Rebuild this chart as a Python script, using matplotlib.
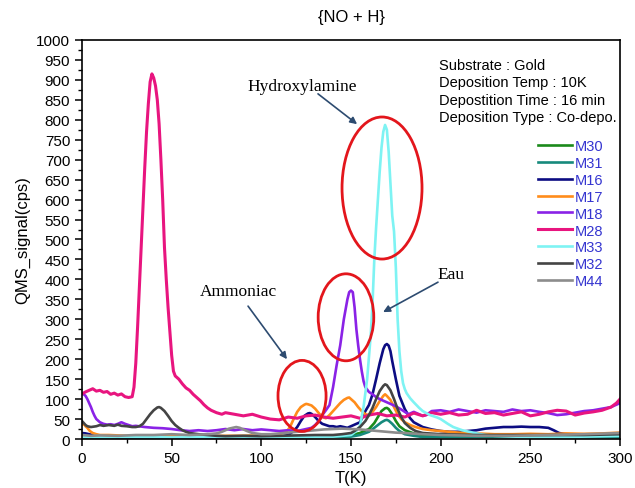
import numpy as np
import matplotlib.pyplot as plt
from matplotlib.patches import Ellipse
from matplotlib.ticker import MultipleLocator

plt.rcParams['font.family'] = ['Liberation Sans', 'DejaVu Sans']

# ---- data (T in K, signal in cps) ----
t_m30 = [0, 50, 100, 140, 150, 155, 160, 163, 165, 167, 169, 170, 171, 173, 175, 177, 180, 185, 190, 200, 250, 300]
m30 = [5, 4, 5, 6, 10, 15, 25, 40, 55, 70, 77, 78, 75, 62, 45, 32, 22, 14, 10, 8, 6, 6]

t_m31 = [0, 100, 150, 155, 160, 163, 165, 167, 169, 170, 171, 173, 175, 177, 180, 185, 190, 300]
m31 = [3, 3, 6, 10, 18, 28, 35, 42, 47, 48, 46, 38, 28, 20, 12, 8, 5, 4]

t_m16 = [0, 2, 4, 6, 8, 10, 15, 20, 30, 40, 50, 60, 70, 80, 90, 100, 110, 115, 118, 120, 122, 124,
         126, 127, 128, 130, 132, 134, 136, 138, 140, 142, 144, 146, 148, 150, 152, 155, 158, 160,
         162, 164, 166, 168, 169, 170, 171, 172, 173, 175, 177, 180, 183, 185, 190, 195, 200, 205,
         210, 215, 220, 225, 230, 235, 240, 245, 250, 255, 260, 263, 266, 270, 280, 290, 300]
m16 = [15, 14, 12, 10, 9, 8, 6, 5, 4, 4, 3, 4, 3, 4, 3, 4, 5, 10, 20, 30, 45, 58,
       64, 65, 63, 55, 45, 38, 35, 32, 32, 30, 32, 30, 28, 32, 36, 42, 70, 85,
       112, 150, 190, 225, 235, 238, 234, 220, 195, 150, 108, 75, 52, 42, 30, 24, 20, 18,
       18, 20, 22, 26, 28, 30, 30, 31, 30, 30, 28, 22, 15, 12, 10, 10, 12]

t_m17 = [0, 1, 2, 3, 4, 5, 6, 8, 10, 15, 20, 25, 30, 40, 50, 60, 70, 80, 90, 100, 105, 110, 114,
         116, 118, 120, 122, 124, 125, 126, 128, 130, 132, 134, 136, 138, 140, 142, 144, 146, 148,
         149, 150, 152, 154, 156, 158, 160, 162, 164, 166, 168, 169, 170, 172, 174, 176, 178, 180,
         183, 186, 190, 195, 200, 205, 210, 220, 230, 240, 250, 260, 270, 280, 290, 300]
m17 = [35, 38, 32, 28, 22, 18, 15, 12, 10, 10, 9, 8, 8, 8, 7, 8, 7, 8, 8, 9, 10, 12, 18,
       30, 50, 68, 80, 86, 88, 87, 84, 76, 65, 55, 52, 60, 70, 80, 90, 98, 103,
       104, 100, 92, 80, 70, 62, 60, 68, 80, 95, 108, 112, 108, 98, 80, 62, 50, 42,
       35, 30, 25, 22, 20, 18, 16, 14, 12, 12, 13, 12, 14, 13, 14, 16]

t_m18 = [0, 1, 2, 3, 4, 5, 6, 7, 8, 10, 12, 14, 16, 18, 20, 22, 24, 26, 28, 30, 35, 40, 45, 50,
         55, 60, 65, 70, 75, 80, 85, 90, 95, 100, 105, 110, 115, 120, 125, 128, 130, 132, 134,
         136, 138, 140, 142, 144, 146, 148, 149, 150, 151, 152, 153, 154, 155, 156, 157, 158,
         160, 162, 164, 166, 168, 170, 172, 175, 178, 180, 182, 185, 188, 190, 192, 195, 200,
         205, 210, 215, 220, 225, 230, 235, 240, 245, 250, 255, 260, 265, 270, 275, 280, 285,
         290, 295, 300]
m18 = [115, 112, 108, 100, 90, 80, 68, 58, 50, 42, 38, 36, 37, 35, 38, 42, 38, 35, 32, 33, 30, 28, 27, 25,
       22, 20, 22, 20, 22, 25, 22, 25, 22, 24, 22, 20, 22, 20, 25, 28, 35, 45, 60,
       72, 85, 130, 185, 235, 300, 350, 368, 372, 368, 330, 275, 235, 200, 170, 145, 130,
       118, 112, 105, 100, 96, 92, 88, 82, 74, 68, 62, 68, 62, 58, 60, 70, 72,
       68, 74, 70, 66, 72, 70, 68, 74, 70, 72, 68, 65, 60, 62, 66, 70, 72,
       76, 80, 90]

t_m28 = [0, 2, 4, 6, 8, 10, 12, 14, 16, 18, 20, 22, 24, 26, 28, 29, 30, 31, 32, 33, 34, 35, 36, 37,
         38, 39, 40, 41, 42, 43, 44, 45, 46, 47, 48, 49, 50, 51, 52, 54, 56, 58, 60, 62, 64, 66,
         68, 70, 72, 75, 78, 80, 85, 90, 95, 100, 105, 110, 115, 120, 125, 130, 135, 140, 145,
         150, 155, 160, 165, 170, 175, 180, 185, 190, 195, 200, 205, 210, 215, 220, 225, 230,
         235, 240, 245, 250, 255, 260, 265, 270, 275, 280, 285, 290, 295, 298, 300]
m28 = [113, 118, 122, 126, 120, 122, 117, 119, 112, 115, 110, 113, 106, 104, 106, 130, 190, 280, 380, 480, 580, 680, 770, 840,
       895, 915, 905, 885, 850, 790, 700, 600, 480, 400, 330, 270, 210, 170, 158, 150, 138, 128, 122, 112, 104, 96,
       86, 78, 72, 66, 62, 66, 62, 58, 62, 55, 50, 48, 55, 52, 58, 60, 55, 52, 55,
       58, 52, 60, 64, 58, 60, 55, 65, 58, 66, 62, 66, 60, 62, 72, 64, 66,
       60, 64, 68, 58, 62, 68, 72, 70, 60, 65, 68, 72, 80, 90, 100]

t_m33 = [0, 20, 50, 100, 140, 150, 153, 155, 157, 159, 161, 162, 163, 164, 165, 166, 167, 168, 169,
         170, 171, 172, 173, 174, 175, 176, 177, 178, 179, 180, 181, 183, 185, 188, 190, 194, 198,
         200, 204, 207, 212, 216, 220, 225, 230, 235, 240, 250, 270, 300]
m33 = [5, 5, 4, 5, 6, 10, 20, 33, 80, 150, 260, 340, 450, 530, 600, 670, 730, 770, 787,
       775, 720, 640, 560, 520, 430, 300, 220, 170, 140, 125, 115, 102, 92, 78, 70, 60, 54,
       50, 38, 30, 22, 18, 14, 10, 8, 7, 6, 5, 5, 8]

t_m32 = [0, 1, 2, 3, 5, 8, 10, 12, 15, 18, 20, 22, 25, 28, 30, 32, 34, 36, 38, 40, 42, 43, 44, 46,
         48, 50, 52, 54, 56, 58, 60, 65, 70, 75, 80, 90, 100, 110, 120, 130, 140, 145, 150, 152,
         155, 158, 160, 162, 164, 166, 168, 169, 170, 172, 174, 176, 178, 180, 183, 186, 190,
         200, 220, 250, 280, 300]
m32 = [45, 40, 35, 32, 30, 32, 35, 33, 35, 33, 36, 33, 32, 30, 30, 32, 38, 50, 62, 72, 79, 80, 78, 70,
       58, 45, 35, 28, 22, 18, 15, 12, 10, 8, 7, 8, 7, 8, 9, 10, 10, 12, 15, 20,
       30, 45, 60, 78, 100, 120, 133, 137, 135, 122, 100, 75, 55, 40, 28, 20, 15,
       12, 10, 10, 10, 12]

t_m44 = [0, 5, 10, 20, 30, 40, 50, 60, 70, 75, 78, 80, 82, 84, 86, 88, 90, 92, 95, 100, 105, 110,
         115, 120, 125, 130, 135, 140, 145, 150, 155, 160, 165, 170, 175, 180, 190, 200, 220,
         240, 260, 280, 300]
m44 = [10, 8, 9, 8, 10, 10, 12, 10, 12, 14, 18, 22, 26, 28, 30, 28, 24, 20, 15, 12, 12, 14,
       16, 18, 20, 22, 24, 25, 26, 25, 24, 22, 20, 18, 16, 15, 12, 10, 8,
       8, 10, 12, 15]

labels = ['M30', 'M31', 'M16', 'M17', 'M18', 'M28', 'M33', 'M32', 'M44']
colors = ['#1a8a1a', '#168a7c', '#0c0c82', '#ff8c1a', '#8a22e6', '#e8157f', '#7ef3f3', '#444444', '#8c8c8c']
series = [(t_m30, m30), (t_m31, m31), (t_m16, m16), (t_m17, m17), (t_m18, m18),
          (t_m28, m28), (t_m33, m33), (t_m32, m32), (t_m44, m44)]

info = ['Substrate : Gold', 'Deposition Temp : 10K',
        'Depostition Time : 16 min', 'Deposition Type : Co-depo.']

fig = plt.figure(figsize=(6.35, 4.89), dpi=100)
ax = fig.add_axes([0.1291, 0.1002, 0.8473, 0.8160])

for (t, v), lab, c in zip(series, labels, colors):
    lw = 2.2 if lab == 'M28' else 1.9
    ax.plot(t, v, color=c, lw=lw, label=lab)

ax.set_xlim(0, 300)
ax.set_ylim(0, 1000)
ax.xaxis.set_major_locator(MultipleLocator(50))
ax.xaxis.set_minor_locator(MultipleLocator(25))
ax.yaxis.set_major_locator(MultipleLocator(50))
ax.yaxis.set_minor_locator(MultipleLocator(25))
ax.tick_params(which='both', direction='out', top=False, right=False, labelsize=11)
ax.tick_params(which='major', length=5, width=1.1)
ax.tick_params(which='minor', length=3, width=1.0)
for s in ax.spines.values():
    s.set_linewidth(1.2)

ax.set_xlabel('T(K)', fontsize=12, labelpad=4)
ax.set_ylabel('QMS_signal(cps)', fontsize=12, labelpad=4)
ax.set_title('{NO + H}', fontsize=12, pad=14)

# info block
ax.text(0.6636, 0.9549, '\n'.join(info), transform=ax.transAxes, va='top', ha='left',
        fontsize=10.5, linespacing=1.3)

leg = ax.legend(loc='upper left', bbox_to_anchor=(0.8476, 0.752), frameon=False,
                fontsize=10.5, handlelength=2.3, handletextpad=0.25, labelspacing=0.2,
                borderpad=0, borderaxespad=0, labelcolor='#3535d0')

# red ellipses
for (cx, cy, w, h) in [(122.7, 108, 26.8, 178), (147.2, 305, 31, 218), (167.3, 629, 44.6, 356)]:
    ax.add_patch(Ellipse((cx, cy), w, h, fill=False, ec='#e3161c', lw=2.0, zorder=5))

# annotations
arrow = dict(arrowstyle='-|>', color='#2d4b70', lw=1.2, mutation_scale=10, shrinkA=0, shrinkB=0)
serif = ['Liberation Serif', 'DejaVu Serif']
ax.annotate('', xy=(153.4, 789), xytext=(131.6, 865), arrowprops=arrow)
ax.text(123, 885, 'Hydroxylamine', family=serif, fontsize=12.5, ha='center', va='center')
ax.annotate('', xy=(114.3, 200), xytext=(92.6, 333), arrowprops=arrow)
ax.text(87, 372, 'Ammoniac', family=serif, fontsize=12.5, ha='center', va='center')
ax.annotate('', xy=(167.9, 318), xytext=(198.5, 393), arrowprops=arrow)
ax.text(206, 413, 'Eau', family=serif, fontsize=12.5, ha='center', va='center')

fig.savefig('out.png', dpi=100)
